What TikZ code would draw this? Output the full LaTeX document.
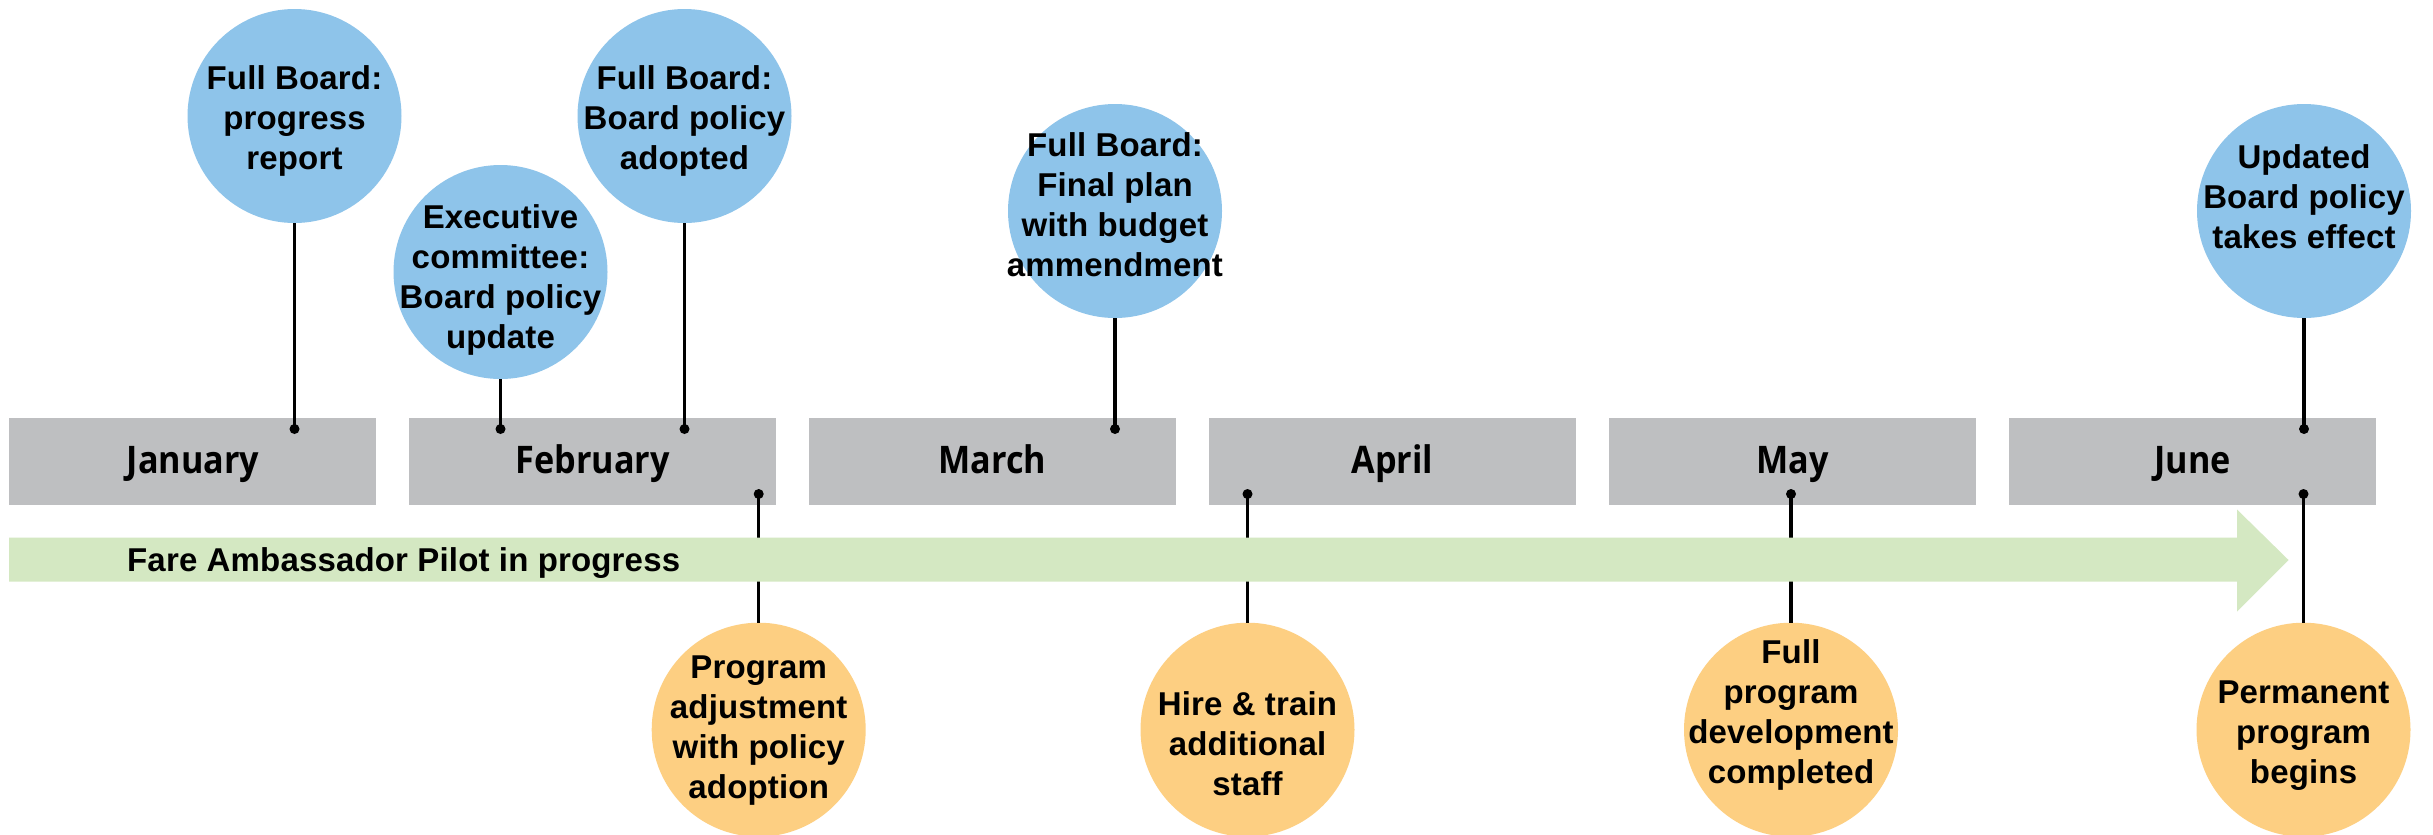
\documentclass[tikz,border=0pt]{standalone}
\usepackage{fontspec}
\newfontfamily\arialfont{Liberation Sans}[LetterSpace=0.5]
\newfontfamily\monthfont{Open Sans}[FakeStretch=0.9]
\definecolor{boxgray}{RGB}{190,191,193}
\definecolor{blueC}{RGB}{142,196,234}
\definecolor{orangeC}{RGB}{253,207,130}
\definecolor{greenC}{RGB}{212,232,194}
\begin{document}
\begin{tikzpicture}[x=1pt,y=-1pt,
  month/.style={rectangle, fill=boxgray, minimum width=367pt, minimum height=86.5pt, inner sep=0},
  monthlbl/.style={anchor=base, inner sep=0, font=\monthfont\bfseries\fontsize{38}{40}\selectfont},
  bcirc/.style={circle, fill=blueC, minimum size=214pt, inner sep=0},
  ocirc/.style={circle, fill=orangeC, minimum size=214pt, inner sep=0},
  ctext/.style={anchor=north, align=center, inner sep=0, font=\arialfont\bfseries\fontsize{33}{40}\selectfont},
  dotn/.style={circle, fill=black, minimum size=10pt, inner sep=0},
  conn/.style={line width=3.5pt, black}]
\fill[white] (0,0) rectangle (2433,835);
\useasboundingbox (0,0) rectangle (2433,835);

% month boxes
\node[month] (jan) at (192.5,461.25) {};
\node[month] (feb) at (592.5,461.25) {};
\node[month] (mar) at (992.5,461.25) {};
\node[month] (apr) at (1392.5,461.25) {};
\node[month] (may) at (1792.5,461.25) {};
\node[month] (jun) at (2192.5,461.25) {};
\node[monthlbl] (janl) at (193,473.3) {January};
\node[monthlbl] (febl) at (592.5,473.3) {February};
\node[monthlbl] (marl) at (992.5,473.3) {March};
\node[monthlbl] (aprl) at (1392.5,473.3) {April};
\node[monthlbl] (mayl) at (1792.5,473.3) {May};
\node[monthlbl] (junl) at (2192.5,473.3) {June};

% upper circles
\node[bcirc] (u1) at (294.5,116) {};
\node[bcirc] (u2) at (500.5,272) {};
\node[bcirc] (u3) at (684.5,116) {};
\node[bcirc] (u4) at (1115,211) {};
\node[bcirc] (u5) at (2304,211) {};
\node[ctext] (u1t) at (294.5,65) {Full Board:\\progress\\report};
\node[ctext] (u2t) at (500.5,204) {Executive\\committee:\\Board policy\\update};
\node[ctext] (u3t) at (684.5,65) {Full Board:\\Board policy\\adopted};
\node[ctext] (u4t) at (1115,132) {Full Board:\\Final plan\\with budget\\ammendment};
\node[ctext] (u5t) at (2304,144) {Updated\\Board policy\\takes effect};

% lower circles
\node[ocirc] (l1) at (758.7,729.7) {};
\node[ocirc] (l2) at (1247.5,729.7) {};
\node[ocirc] (l3) at (1791,729.7) {};
\node[ocirc] (l4) at (2303.5,729.7) {};
\node[ctext] (l1t) at (758.7,656) {Program\\adjustment\\with policy\\adoption};
\node[ctext] (l2t) at (1247.5,691) {Hire \& train\\additional\\staff};
\node[ctext] (l3t) at (1791,639.5) {Full\\program\\development\\completed};
\node[ctext] (l4t) at (2303.5,681) {Permanent\\program\\begins};

% dots
\node[dotn] (d1) at (294.5,429) {};
\node[dotn] (d2) at (500.5,429) {};
\node[dotn] (d3) at (684.5,429) {};
\node[dotn] (d4) at (1115,429) {};
\node[dotn] (d5) at (2304,429) {};
\node[dotn] (e1) at (758.7,494) {};
\node[dotn] (e2) at (1247.5,494) {};
\node[dotn] (e3) at (1791,494) {};
\node[dotn] (e4) at (2303.5,494) {};

% connectors
\draw[conn] (u1.south) -- (d1.center);
\draw[conn] (u2.south) -- (d2.center);
\draw[conn] (u3.south) -- (d3.center);
\draw[conn] (u4.south) -- (d4.center);
\draw[conn] (u5.south) -- (d5.center);
\draw[conn] (e1.center) -- (l1.north);
\draw[conn] (e2.center) -- (l2.north);
\draw[conn] (e3.center) -- (l3.north);
\draw[conn] (e4.center) -- (l4.north);

% pilot arrow band
\fill[greenC] (9,537.5) -- (2237,537.5) -- (2237,509.5) -- (2288.5,560) -- (2237,611.5) -- (2237,581.5) -- (9,581.5) -- cycle;
\node[anchor=base west, inner sep=0, font=\arialfont\bfseries\fontsize{33}{40}\selectfont] (pilot) at (127,571) {Fare Ambassador Pilot in progress};
\end{tikzpicture}
\end{document}
